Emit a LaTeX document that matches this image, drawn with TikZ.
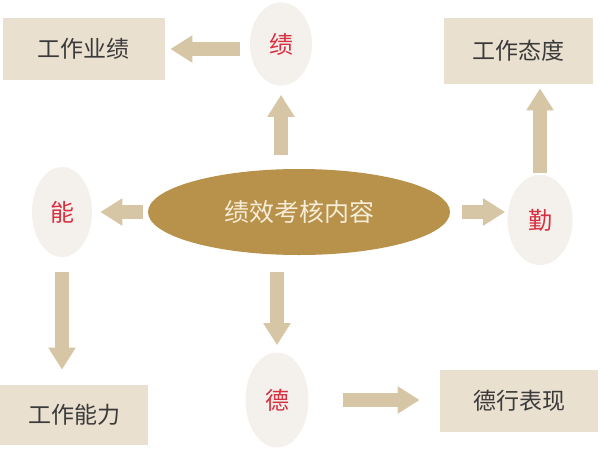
\documentclass[tikz,border=0pt]{standalone}
\usepackage{fontspec}
\newfontfamily\cjk{Noto Sans CJK SC}
\usetikzlibrary{shapes.geometric,arrows.meta}
\definecolor{boxfill}{HTML}{EAE0D0}
\definecolor{arrfill}{HTML}{D6C6A6}
\definecolor{circfill}{HTML}{F4F1EC}
\definecolor{mainfill}{HTML}{B8914A}
\definecolor{maintext}{HTML}{F6EDD8}
\definecolor{redtext}{HTML}{D83040}
\definecolor{darktext}{HTML}{3A3A3A}
\tikzset{
  resultbox/.style={draw=none, fill=boxfill, rectangle, inner sep=0pt,
    text=darktext, font=\cjk\fontsize{11.5pt}{14pt}\selectfont},
  keycirc/.style={draw=none, fill=circfill, ellipse, inner sep=0pt,
    text=redtext, font=\cjk\fontsize{12pt}{14pt}\selectfont},
  mainell/.style={draw=none, fill=mainfill, ellipse, inner sep=0pt,
    text=maintext, font=\cjk\fontsize{12.5pt}{15pt}\selectfont},
  bigarrow/.style={draw=arrfill, line width=7pt, line cap=butt,
    -{Triangle[width=13pt,length=11pt,fill=arrfill]}}
}
\begin{document}
\begin{tikzpicture}[x=0.5pt,y=-0.5pt]
\useasboundingbox[fill=white] (0,0) rectangle (600,450);
% nodes
\node[mainell, minimum width=151pt, minimum height=43pt] (main) at (299,212) {绩效考核内容};
\node[keycirc, minimum width=31pt, minimum height=41.5pt] (ji) at (281,44) {绩};
\node[keycirc, minimum width=30pt, minimum height=45pt] (neng) at (62,212) {能};
\node[keycirc, minimum width=32.5pt, minimum height=45pt] (qin) at (540,220) {勤};
\node[keycirc, minimum width=31.5pt, minimum height=47.5pt] (de) at (277,400) {德};
\node[resultbox, minimum width=81pt, minimum height=31pt] (gzyj) at (84,49) {工作业绩};
\node[resultbox, minimum width=74.5pt, minimum height=33pt] (gztd) at (518.5,51) {工作态度};
\node[resultbox, minimum width=74pt, minimum height=30pt] (gznl) at (74,415) {工作能力};
\node[resultbox, minimum width=79pt, minimum height=31pt] (dxbx) at (519,401) {德行表现};
% arrows
\draw[bigarrow, shorten <=5pt, shorten >=2.5pt] (ji.west |- gzyj.east) -- (gzyj.east);
\draw[bigarrow, shorten <=7pt, shorten >=4.5pt] (ji.south |- main.north) -- (ji.south);
\draw[bigarrow, shorten <=2.5pt, shorten >=4pt] (main.west) -- (neng.east |- main.west);
\draw[bigarrow, shorten <=6pt, shorten >=1pt] (main.east) -- (qin.west |- main.east);
\draw[bigarrow, shorten <=1pt, shorten >=2pt] (qin.north) -- (qin.north |- gztd.south);
\draw[bigarrow, shorten <=7.5pt, shorten >=7.5pt] (neng.south) -- (neng.south |- gznl.north);
\draw[bigarrow, shorten <=8.5pt, shorten >=3.5pt] (de.north |- main.south) -- (de.north);
\draw[bigarrow, shorten <=17pt, shorten >=10pt] (de.east) -- (dxbx.west |- de.east);
\end{tikzpicture}
\end{document}
